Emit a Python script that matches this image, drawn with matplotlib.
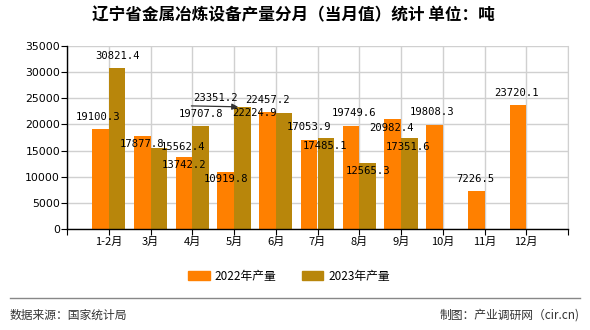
import matplotlib
matplotlib.use("Agg")
import matplotlib.pyplot as plt
from matplotlib.lines import Line2D
from matplotlib.patches import Patch

plt.rcParams["font.family"] = ["Noto Sans CJK SC", "DejaVu Sans"]

months = ["1-2月", "3月", "4月", "5月", "6月", "7月", "8月", "9月", "10月", "11月", "12月"]
prod_2022 = [19100.3, 17877.8, 13742.2, 10919.8, 22457.2, 17053.9, 19749.6, 20982.4, 19808.3, 7226.5, 23720.1]
prod_2023 = [30821.4, 15562.4, 19707.8, 23351.2, 22224.9, 17485.1, 12565.3, 17351.6]
yticks = [0, 5000, 10000, 15000, 20000, 25000, 30000, 35000]

C22 = "#ff8000"
C23 = "#b8860b"

# label offsets (pixels) relative to the bar top centre, to mimic the reference layout
OFF_22 = [(-2, 12), (0, -8), (0, -8), (0, -7), (0, 12), (0, 13), (3, 13), (-1, -9), (-2, 13), (-1, 12), (-1, 12)]
OFF_23 = [(0, 12), (24, 1), (0, 12), (-27, 9), (-30, 0), (-1, -8), (0, -8), (-1, -9)]

fig = plt.figure(figsize=(5.9, 3.3), dpi=100)
ax = fig.add_axes([67 / 590, 1 - 229 / 330, (568 - 67) / 590, (229 - 46) / 330])

w = 0.4
x22 = [i - w / 2 for i in range(len(prod_2022))]
x23 = [i + w / 2 for i in range(len(prod_2023))]
ax.bar(x22, prod_2022, width=w, color=C22, zorder=2)
ax.bar(x23, prod_2023, width=w, color=C23, zorder=2)

mono = dict(family="DejaVu Sans Mono", fontsize=7.6, color="black", ha="center", va="center", zorder=4)
for x, v, (dx, dy) in zip(x22, prod_2022, OFF_22):
    ax.annotate(f"{v:.1f}", (x, v), xytext=(dx, dy), textcoords="offset pixels", **mono)
for x, v, (dx, dy) in zip(x23, prod_2023, OFF_23):
    ax.annotate(f"{v:.1f}", (x, v), xytext=(dx, dy), textcoords="offset pixels", **mono)

# leader line for the May 2023 label
ax.annotate("", xy=(x23[3], prod_2023[3]), xytext=(-51, 1), textcoords="offset pixels",
            arrowprops=dict(arrowstyle="-|>", color="#333333", lw=0.9, shrinkA=0, shrinkB=3,
                            mutation_scale=9), zorder=4)

ax.set_xlim(-1, 11)
ax.set_ylim(0, 35000)
ax.set_xticks(range(-1, 12), minor=True)
ax.set_xticks(range(len(months)))
ax.set_xticklabels(months, fontsize=8)
ax.set_yticks(yticks)
ax.set_yticklabels([str(t) for t in yticks], family="DejaVu Sans", fontsize=7.8)
ax.tick_params(axis="x", which="both", length=4, width=0.8, pad=2)
ax.tick_params(axis="y", length=4, width=0.8, pad=1)
ax.grid(True, which="both", axis="x", color="#d0d0d0", lw=1, zorder=0)
ax.grid(True, axis="y", color="#d0d0d0", lw=1, zorder=0)
ax.spines["top"].set_visible(False)
ax.spines["right"].set_color("#d0d0d0")
ax.spines["left"].set_linewidth(1)
ax.spines["bottom"].set_linewidth(1)

fig.text(0.498, 0.953, "辽宁省金属冶炼设备产量分月（当月值）统计 单位：吨",
         ha="center", va="center", fontsize=12, fontweight="bold")

handles = [Patch(color=C22, label="2022年产量"), Patch(color=C23, label="2023年产量")]
fig.legend(handles=handles, loc="center", bbox_to_anchor=(0.49, 0.162), ncol=2, frameon=False,
           fontsize=8.5, handlelength=1.8, handleheight=0.8, columnspacing=2.2, handletextpad=0.4)

fig.add_artist(Line2D([0.017, 0.983], [0.097, 0.097], color="#888888", lw=1))
fig.text(0.017, 0.045, "数据来源：国家统计局", ha="left", va="center", fontsize=8.5, color="#333333")
fig.text(0.983, 0.045, "制图：产业调研网（cir.cn)", ha="right", va="center", fontsize=8.5, color="#333333")

fig.savefig("out.png", dpi=100)
